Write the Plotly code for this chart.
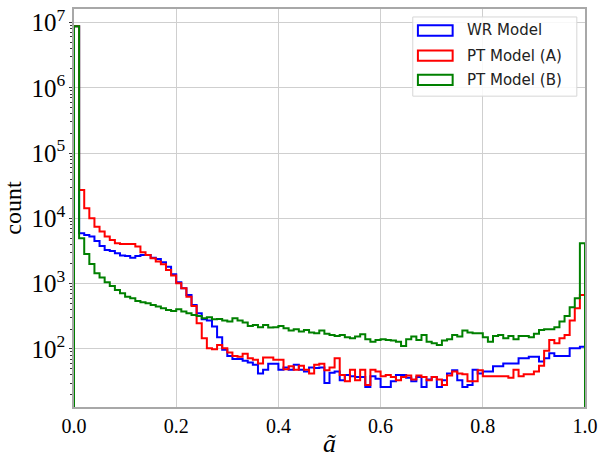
import numpy as np
import plotly.graph_objects as go

# histogram: 100 bins on [0, 1]
n_bins = 100
bin_lo, bin_hi = 0.0, 1.0

wr_model = [8800000, 5902, 5572, 5248, 4508, 3776, 3281, 3162, 2917, 2685,
            2655, 2500, 2655, 2754, 2754, 2500, 2388, 2123, 1820, 1393,
            1050, 849, 671, 472, 352, 285, 272, 220, 151, 97,
            78, 70, 70, 66, 62, 57, 42, 48, 59, 59,
            48, 52, 48, 57, 48, 45, 52, 51, 52, 30,
            43, 45, 33, 40, 38, 37, 37, 26, 38, 35,
            26, 26, 32, 40, 40, 36, 32, 37, 26, 34,
            37, 26, 33, 42, 47, 33, 26, 28, 48, 42,
            45, 45, 54, 54, 60, 60, 60, 72, 72, 76,
            76, 64, 72, 86, 78, 78, 78, 102, 102, 108]

pt_model_a = [8800000, 27230, 14260, 10000, 7464, 6266, 5248, 4667, 4150, 4055,
              4055, 4055, 3690, 3020, 2754, 2449, 2173, 1982, 1622, 1327,
              1014, 849, 631, 455, 247, 146, 102, 99, 115, 102,
              88, 78, 76, 84, 72, 68, 60, 74, 74, 68,
              68, 49, 54, 48, 55, 48, 42, 57, 59, 47,
              52, 72, 40, 32, 48, 33, 48, 28, 48, 45,
              38, 40, 37, 33, 37, 39, 34, 39, 37, 33,
              37, 34, 28, 39, 45, 42, 41, 32, 32, 47,
              38, 38, 38, 38, 38, 36, 48, 38, 41, 41,
              45, 55, 94, 137, 122, 146, 164, 272, 420, 671]

pt_model_b = [8800000, 4955, 2851, 1995, 1445, 1236, 1050, 923, 802, 713,
              631, 597, 543, 519, 501, 472, 445, 420, 395, 382,
              406, 373, 352, 332, 320, 295, 305, 285, 288, 272,
              262, 295, 272, 253, 225, 233, 215, 233, 212, 215,
              225, 207, 191, 200, 184, 195, 178, 174, 191, 170,
              164, 158, 164, 151, 146, 155, 168, 141, 129, 137,
              141, 137, 134, 129, 111, 141, 155, 137, 164, 129,
              122, 115, 134, 141, 164, 155, 191, 178, 174, 174,
              151, 129, 158, 164, 146, 158, 141, 158, 158, 151,
              170, 195, 200, 200, 215, 262, 320, 434, 597, 4150]

series_names = ["WR Model", "PT Model (A)", "PT Model (B)"]
series_values = [wr_model, pt_model_a, pt_model_b]
series_colors = ["#0000ff", "#ff0000", "#008000"]

x_ticks = [0.0, 0.2, 0.4, 0.6, 0.8, 1.0]
x_ticklabels = ["0.0", "0.2", "0.4", "0.6", "0.8", "1.0"]

edges = np.linspace(bin_lo, bin_hi, n_bins + 1)
floor = 1.0  # below the visible range -> outline drops to the axis

fig = go.Figure()
for name, counts, color in zip(series_names, series_values, series_colors):
    xs = [edges[0]] + list(edges[:-1]) + [edges[-1]]
    ys = [floor] + list(counts) + [floor]
    fig.add_trace(go.Scatter(
        x=xs, y=ys, name=name, mode="lines",
        line=dict(color=color, width=2, shape="hv"),
        hoverinfo="skip", showlegend=False,
    ))

# legend drawn as patch outlines (like matplotlib step-histogram legend)
legend_box = dict(x0=0.663, x1=0.984, y0=0.781, y1=0.980)
fig.add_shape(type="rect", xref="paper", yref="paper", **legend_box,
              line=dict(color="#d6d6d6", width=1), fillcolor="rgba(255,255,255,0.85)", layer="above")
row_y = [0.946, 0.883, 0.822]
for name, color, yc in zip(series_names, series_colors, row_y):
    fig.add_shape(type="rect", xref="paper", yref="paper",
                  x0=0.673, x1=0.741, y0=yc - 0.013, y1=yc + 0.013,
                  line=dict(color=color, width=2), fillcolor="rgba(0,0,0,0)", layer="above")
    fig.add_annotation(xref="paper", yref="paper", x=0.766, y=yc, text=name,
                       showarrow=False, xanchor="left", yanchor="middle",
                       font=dict(family="DejaVu Sans", size=15, color="#222"))

serif = "Liberation Serif, Times New Roman, serif"
fig.update_layout(
    width=601, height=458,
    margin=dict(l=74, r=16, t=9, b=51),
    paper_bgcolor="white", plot_bgcolor="white",
    showlegend=False,
    xaxis=dict(
        range=[0, 1], tickvals=x_ticks, ticktext=x_ticklabels, automargin=False,
        showgrid=True, gridcolor="#cfcfcf", gridwidth=1,
        showline=True, linecolor="#a8a8a8", linewidth=1.5, mirror=True,
        ticks="", zeroline=False,
        tickfont=dict(family=serif, size=20, color="black"),
        title=dict(text="<i>ã</i>", font=dict(family=serif, size=26, color="black"), standoff=4),
    ),
    yaxis=dict(
        type="log", range=[1.11, 7.207], dtick=1, exponentformat="power", automargin=False,
        showgrid=True, gridcolor="#cfcfcf", gridwidth=1,
        showline=True, linecolor="#a8a8a8", linewidth=1.5, mirror=True,
        ticks="outside", ticklen=3, tickcolor="#333", zeroline=False,
        minor=dict(ticks="outside", ticklen=2, tickcolor="#333", showgrid=False),
        tickfont=dict(family=serif, size=20, color="black"),
        title=dict(text="count", font=dict(family=serif, size=24, color="black"), standoff=6),
    ),
)

fig.write_html("out.html")
